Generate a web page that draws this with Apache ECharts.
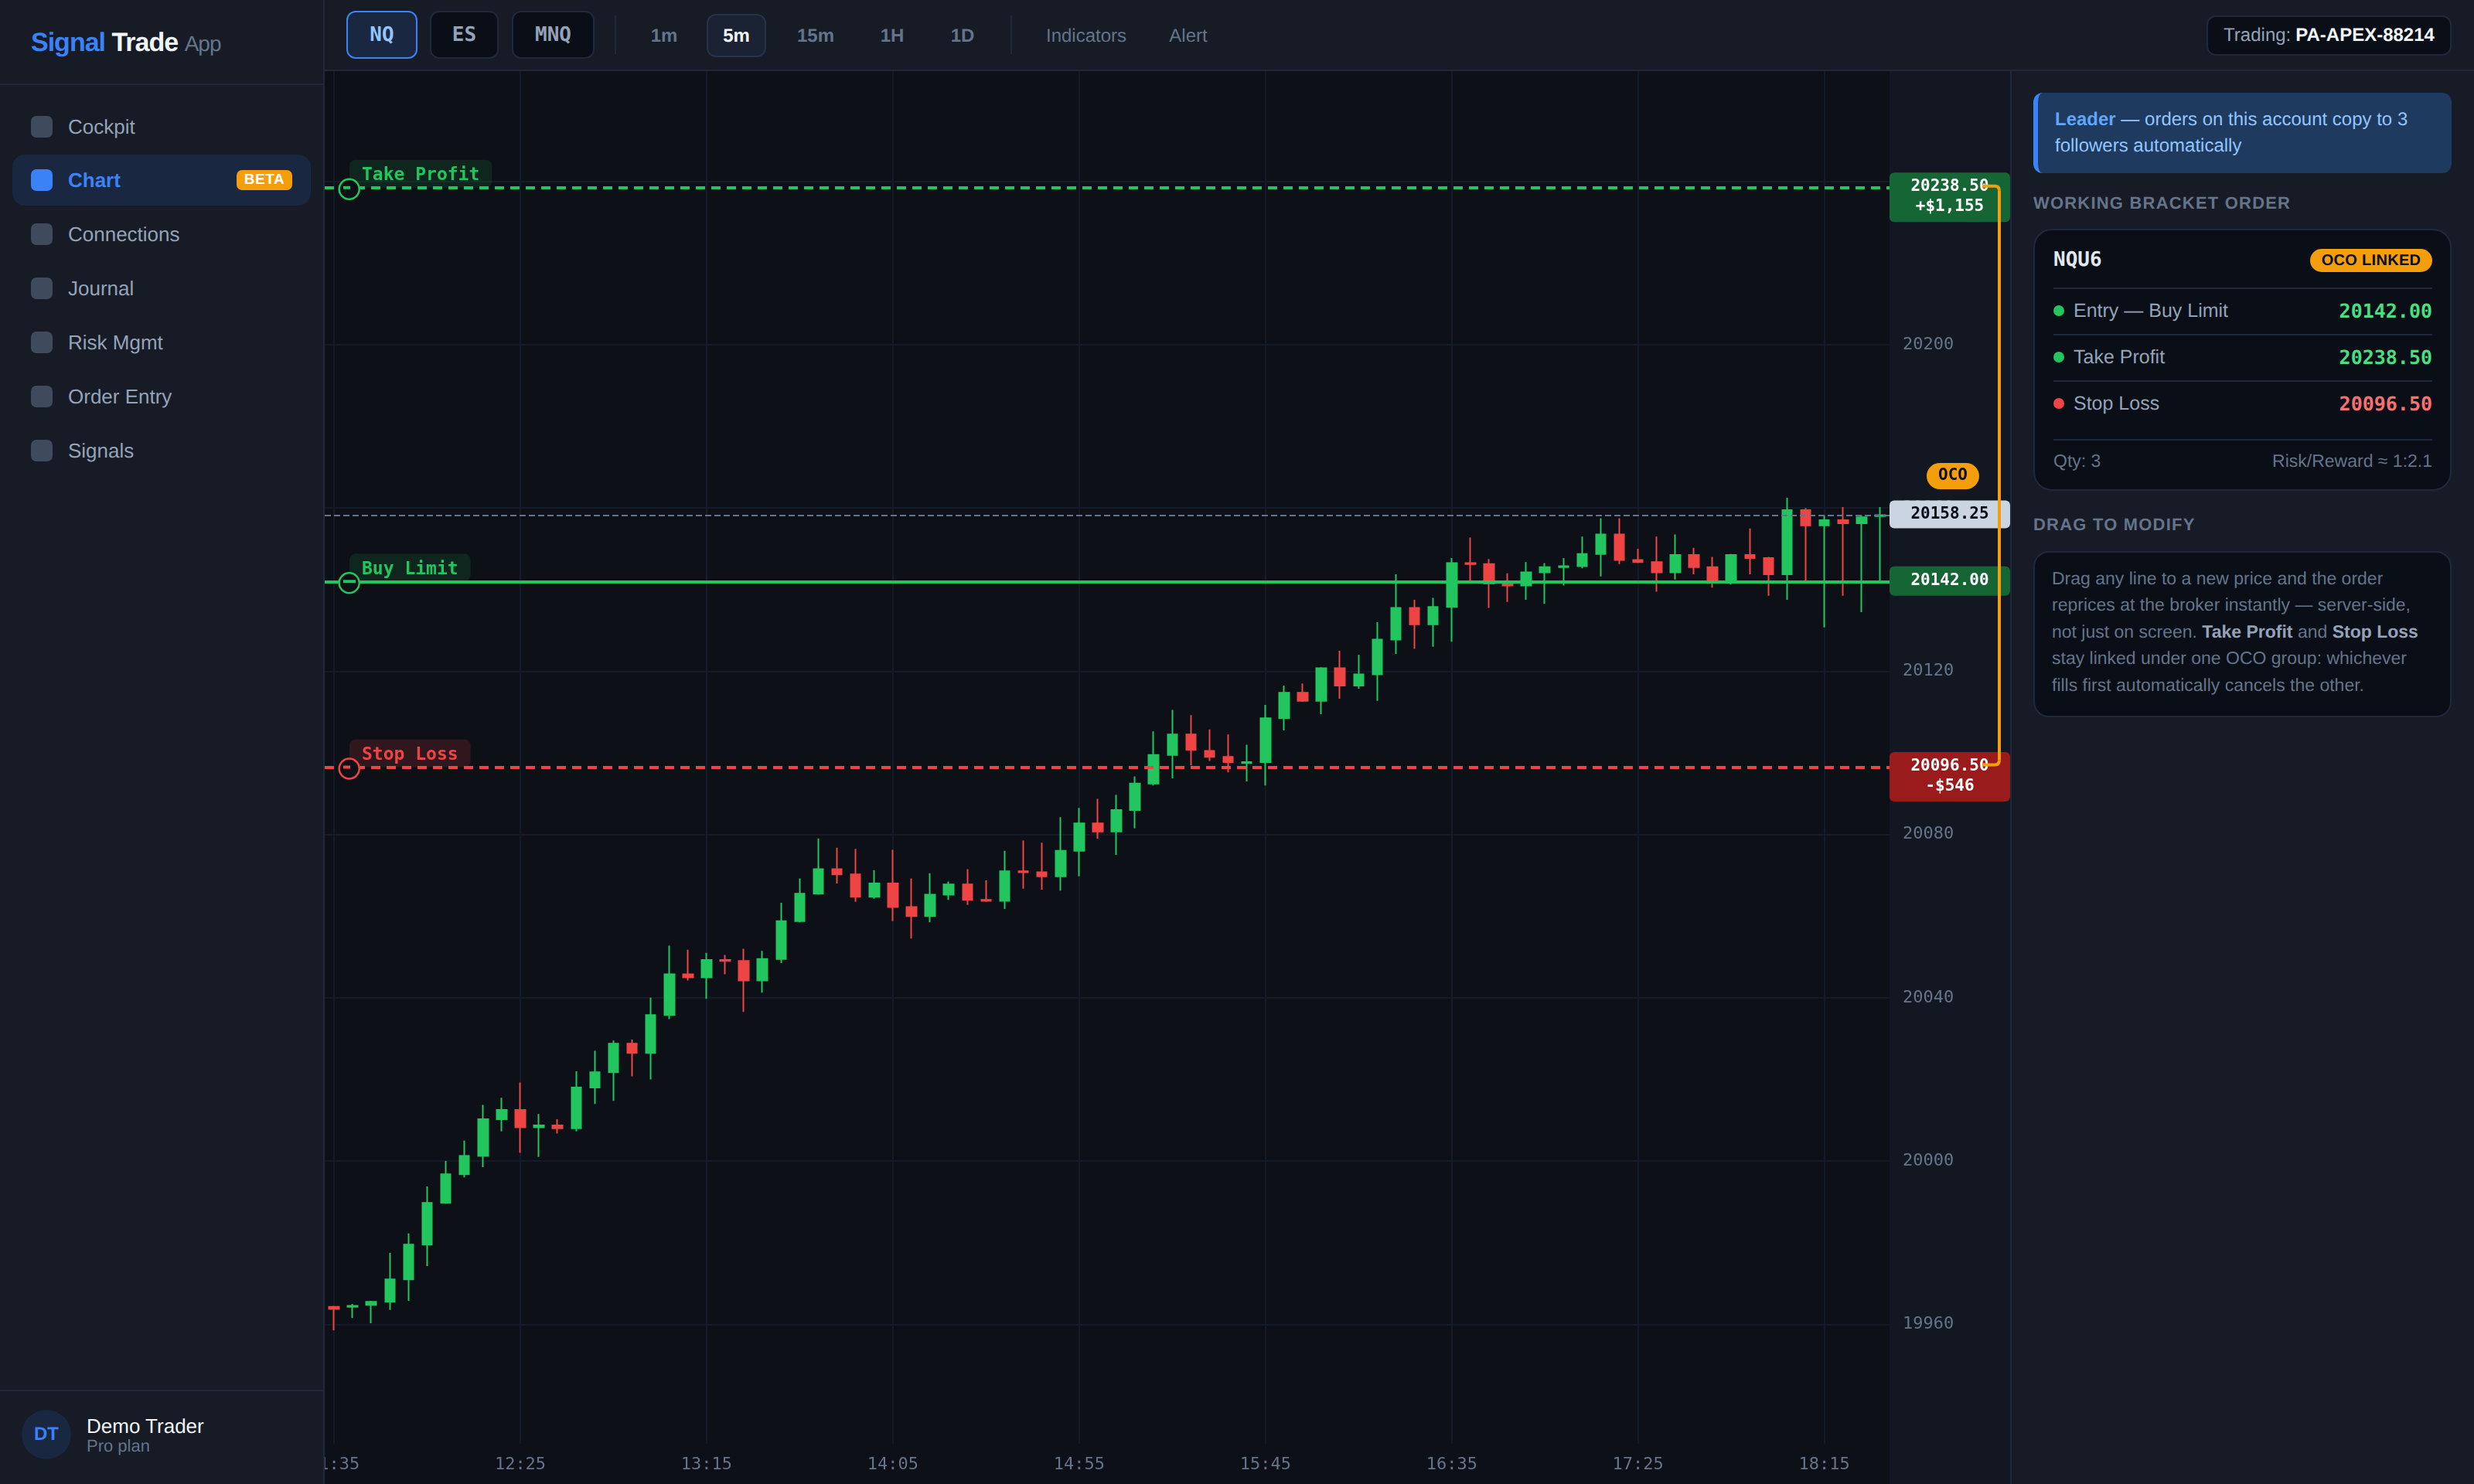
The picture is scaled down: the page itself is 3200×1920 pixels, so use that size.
<!DOCTYPE html>
<html>
<head>
<meta charset="utf-8">
<title>Signal Trade App</title>
<script src="https://cdn.jsdelivr.net/npm/echarts@6/dist/echarts.min.js"></script>
<style>
  html, body { margin: 0; width: 3200px; height: 1920px; overflow: hidden; background: #161b26; }
  body { position: relative; font-family: "Liberation Sans", sans-serif; color: #94a3b8; text-rendering: geometricPrecision; }
  .abs, .abs * { box-sizing: border-box; }
  .abs { position: absolute; white-space: nowrap; }
  .mono { font-family: "DejaVu Sans Mono", monospace; }
  .line-h { height: 2px; background: #1e293b; }
  .center { display: flex; align-items: center; justify-content: center; }

  #sidebar { left: 0; top: 0; width: 420px; height: 1920px; background: #161b26; border-right: 2px solid #1e293b; }
  .logo { left: 40px; top: 34px; font-size: 34px; line-height: 42px; font-weight: 700; letter-spacing: -1px; color: #f1f5f9; }
  .logo b { color: #3b82f6; }
  .logo span { font-size: 28px; font-weight: 400; color: #64748b; }
  .nav { left: 16px; width: 386px; height: 66px; border-radius: 16px; font-size: 26px; line-height: 66px; padding-left: 72px; color: #94a3b8; }
  .nav i { position: absolute; left: 24px; top: 19px; width: 28px; height: 28px; border-radius: 7px; background: #3f4a5c; }
  .nav.on { background: #1a2740; color: #3b82f6; font-weight: 700; }
  .nav.on i { background: #3b82f6; }
  .beta { position: absolute; left: 290px; top: 20px; width: 72px; height: 26px; border-radius: 7px; background: #f59e0b; color: #fff; font-size: 19px; font-weight: 700; letter-spacing: .5px; line-height: 26px; text-align: center; }

  #topbar { left: 420px; top: 0; width: 2780px; height: 92px; background: #161b26; border-bottom: 2px solid #1e293b; }
  .sym { top: 14px; height: 62px; border: 2px solid #1e293b; border-radius: 12px; background: #0a0e16; color: #94a3b8; font-size: 26px; font-weight: 700; }
  .sym.on { background: #1a2740; border-color: #3b82f6; color: #93c5fd; }
  .tf { top: 18px; height: 56px; padding-top: 2px; font-size: 24px; font-weight: 700; color: #64748b; }
  .tf.on { background: #1a2233; border: 2px solid #263449; border-radius: 12px; color: #f1f5f9; }
  .tool { top: 18px; height: 56px; padding-top: 2px; font-size: 24px; color: #64748b; }
  .sep { top: 20px; width: 2px; height: 50px; background: #1e293b; }
  .account { left: 2434px; top: 20px; width: 317px; height: 52px; border: 2px solid #1e293b; border-radius: 12px; background: #0a0e16; font-size: 24px; color: #94a3b8; }
  .account b { color: #f1f5f9; margin-left: 6px; }

  #chart { position: absolute; left: 420px; top: 92px; width: 2180px; height: 1828px; background: linear-gradient(90deg, #0d1017 2024px, #131722 2024px); }

  #panel { left: 2600px; top: 92px; width: 600px; height: 1828px; background: #161b26; border-left: 2px solid #1e293b; }
  .leader { left: 2630px; top: 120px; width: 541px; height: 104px; background: #1e3a5f; border-left: 6px solid #3b82f6; border-radius: 12px; padding: 18px 22px; font-size: 24px; line-height: 34px; color: #93c5fd; white-space: normal; }
  .leader b { color: #60a5fa; }
  .head { left: 2630px; font-size: 22px; line-height: 28px; font-weight: 700; letter-spacing: 1.2px; color: #64748b; }
  .card { left: 2630px; width: 541px; background: #0a0e16; border: 2px solid #1e293b; border-radius: 24px; }
  .row-label { left: 2682px; font-size: 25px; line-height: 32px; color: #94a3b8; }
  .row-dot { left: 2656px; width: 14px; height: 14px; border-radius: 50%; }
  .row-val { right: 54px; font-size: 25px; line-height: 32px; font-weight: 700; }
  .pill { left: 2988px; top: 322px; width: 158px; height: 30px; border-radius: 15px; background: #f59e0b; color: #0a0e16; font-size: 20px; font-weight: 700; letter-spacing: .3px; }
  .note { left: 2654px; top: 731px; width: 500px; font-size: 23px; line-height: 34.4px; color: #64748b; white-space: nowrap; }
  .note b { color: #94a3b8; }
</style>
</head>
<body>

<div id="chart"></div>

<div id="sidebar" class="abs">
  <div class="abs line-h" style="left:0;top:108px;width:418px"></div>
  <div class="abs line-h" style="left:0;top:1798px;width:418px"></div>
  <div class="abs center" style="left:28px;top:1824px;width:64px;height:64px;border-radius:50%;background:#1a2740;color:#3b82f6;font-size:24px;font-weight:700">DT</div>
  <div class="abs" style="left:112px;top:1830px;font-size:26px;line-height:30px;color:#f1f5f9">Demo Trader</div>
  <div class="abs" style="left:112px;top:1858px;font-size:22px;line-height:26px;color:#64748b">Pro plan</div>
</div>
<div class="abs logo"><b>Signal</b> Trade <span>App</span></div>
<div id="nav"></div>

<div id="topbar" class="abs">
  <div class="abs sym on center mono" style="left:28px;width:92px">NQ</div>
  <div class="abs sym center mono" style="left:136px;width:89px">ES</div>
  <div class="abs sym center mono" style="left:242px;width:107px">MNQ</div>
  <div class="abs sep" style="left:375px"></div>
  <div class="abs tf center" style="left:404px;width:70px">1m</div>
  <div class="abs tf on center" style="left:494px;width:77px">5m</div>
  <div class="abs tf center" style="left:595px;width:80px">15m</div>
  <div class="abs tf center" style="left:704px;width:60px">1H</div>
  <div class="abs tf center" style="left:795px;width:60px">1D</div>
  <div class="abs sep" style="left:887px"></div>
  <div class="abs tool center" style="left:925px;width:120px">Indicators</div>
  <div class="abs tool center" style="left:1082px;width:70px">Alert</div>
  <div class="abs account center">Trading: <b>PA-APEX-88214</b></div>
</div>

<div id="panel" class="abs"></div>
<div class="abs leader"><b>Leader</b> — orders on this account copy to 3 followers automatically</div>
<div class="abs head" style="top:249px">WORKING BRACKET ORDER</div>
<div class="abs card" style="top:296px;height:339px"></div>
<div class="abs mono" style="left:2656px;top:319px;font-size:26px;line-height:34px;font-weight:700;color:#e2e8f0">NQU6</div>
<div class="abs pill center">OCO LINKED</div>
<div class="abs line-h" style="left:2656px;top:372px;width:490px"></div>
<div class="abs row-dot" style="top:395px;background:#22c55e"></div>
<div class="abs row-label" style="top:386px">Entry — Buy Limit</div>
<div class="abs row-val mono" style="top:387px;color:#4ade80">20142.00</div>
<div class="abs line-h" style="left:2656px;top:432px;width:490px"></div>
<div class="abs row-dot" style="top:455px;background:#22c55e"></div>
<div class="abs row-label" style="top:446px">Take Profit</div>
<div class="abs row-val mono" style="top:447px;color:#4ade80">20238.50</div>
<div class="abs line-h" style="left:2656px;top:492px;width:490px"></div>
<div class="abs row-dot" style="top:515px;background:#ef4444"></div>
<div class="abs row-label" style="top:506px">Stop Loss</div>
<div class="abs row-val mono" style="top:507px;color:#f87171">20096.50</div>
<div class="abs line-h" style="left:2656px;top:568px;width:490px"></div>
<div class="abs" style="left:2656px;top:581px;font-size:23px;line-height:30px;color:#64748b">Qty: 3</div>
<div class="abs" style="right:54px;top:581px;font-size:23px;line-height:30px;color:#64748b">Risk/Reward ≈ 1:2.1</div>
<div class="abs head" style="top:665px">DRAG TO MODIFY</div>
<div class="abs card" style="top:713px;height:215px;border-radius:20px"></div>
<div class="abs note">Drag any line to a new price and the order<br>reprices at the broker instantly — server-side,<br>not just on screen. <b>Take Profit</b> and <b>Stop Loss</b><br>stay linked under one OCO group: whichever<br>fills first automatically cancels the other.</div>

<script>
const navItems = ['Cockpit', 'Chart', 'Connections', 'Journal', 'Risk Mgmt', 'Order Entry', 'Signals'];

const times = [
  '11:35','11:40','11:45','11:50','11:55','12:00','12:05','12:10','12:15','12:20',
  '12:25','12:30','12:35','12:40','12:45','12:50','12:55','13:00','13:05','13:10',
  '13:15','13:20','13:25','13:30','13:35','13:40','13:45','13:50','13:55','14:00',
  '14:05','14:10','14:15','14:20','14:25','14:30','14:35','14:40','14:45','14:50',
  '14:55','15:00','15:05','15:10','15:15','15:20','15:25','15:30','15:35','15:40',
  '15:45','15:50','15:55','16:00','16:05','16:10','16:15','16:20','16:25','16:30',
  '16:35','16:40','16:45','16:50','16:55','17:00','17:05','17:10','17:15','17:20',
  '17:25','17:30','17:35','17:40','17:45','17:50','17:55','18:00','18:05','18:10',
  '18:15','18:20','18:25','18:30'
];

const opens = [
  19964.25,19964.25,19964.75,19965.5,19971,19979.5,19989.75,19996.75,20001.25,20010.25,
  20012.5,20008.25,20008.75,20008,20018,20021.75,20028.75,20026.5,20035.75,20045.75,
  20045,20049.25,20049,20044.25,20049.5,20058.75,20065.5,20071.5,20070.25,20064.75,
  20068,20062.25,20060,20065.25,20067.75,20064,20063.75,20071,20070.75,20069.75,
  20076,20082.75,20080.75,20086,20092.5,20099.5,20104.5,20100.5,20099,20097.5,
  20097.75,20108.5,20114.75,20112.75,20120.75,20116.5,20119.25,20127.75,20135.5,20131.5,
  20135.75,20146.5,20146.25,20141.5,20141,20144.25,20145.5,20145.75,20148.75,20153.5,
  20147.25,20146.75,20144.25,20148.5,20145.5,20142.25,20148.5,20147.75,20143.75,20159.5,
  20155.75,20157,20156.25,20158
];
const closes = [
  19963.75,19964.5,19965.5,19971,19979.5,19989.75,19996.75,20001.25,20010.25,20012.5,
  20008.25,20008.75,20008,20018,20021.75,20028.75,20026.5,20035.75,20045.75,20045,
  20049.25,20049,20044.25,20049.5,20058.75,20065.5,20071.5,20070.25,20064.75,20068,
  20062.25,20060,20065.25,20067.75,20064,20063.75,20071,20070.75,20069.75,20076,
  20082.75,20080.75,20086,20092.5,20099.5,20104.5,20100.75,20099,20097.75,20097.75,
  20108.5,20114.75,20112.75,20120.75,20116.5,20119.25,20127.75,20135.5,20131.5,20135.75,
  20146.5,20146.25,20141.5,20141,20144.25,20145.5,20145.75,20148.75,20153.5,20147.25,
  20146.75,20144.25,20148.5,20145.5,20142.25,20148.5,20147.75,20143.75,20159.5,20155.75,
  20157,20156.25,20157.75,20158.25
];
const lows = [
  19958.5,19961.5,19960.25,19963.5,19965.75,19974.25,19989.5,19996,19998.5,20007.25,
  20002,20001,20006.75,20007.25,20014,20014.75,20020.75,20020,20034.75,20044.25,
  20039.75,20045.75,20036.5,20041.25,20048.5,20058.5,20065.25,20068,20063.5,20064.25,
  20058.75,20054.5,20058.5,20064,20062.75,20063.5,20061.75,20066.75,20066.5,20066.25,
  20069.75,20079,20075,20081.5,20092,20093.75,20097,20098,20095.25,20093,
  20092,20105.5,20112.5,20109.5,20113.25,20115.75,20112.75,20124.25,20125.5,20126,
  20127.25,20142,20135.5,20137,20137.5,20136.5,20141,20145.25,20143.25,20146.25,
  20146.5,20139.5,20142.5,20143.75,20140.5,20141.25,20143.75,20138.5,20137.5,20142,
  20130.75,20138.5,20134.5,20142
];
const highs = [
  19964.5,19965,19965.75,19977.5,19982.25,19993.75,20000,20005,20013.75,20015.5,
  20019.25,20011.5,20010.25,20022,20027,20029.5,20029.75,20040,20052.75,20051.75,
  20051,20050.5,20052,20051.5,20063.25,20069.25,20079,20076.75,20076.5,20071.25,
  20076.25,20069.25,20070.5,20068.5,20071.5,20068.75,20076,20078.5,20078,20084.25,
  20086.5,20088.75,20089.75,20094.25,20105.25,20110.5,20109.25,20105.75,20104.5,20102,
  20111.75,20116.5,20117,20121,20125,20124,20132,20143.75,20137.5,20138,
  20147.75,20152.75,20147.5,20144,20146.75,20146.5,20147.75,20153,20157.5,20157.5,
  20150,20153,20153.5,20150.25,20148,20148.75,20155,20148,20162.5,20160,
  20158.25,20160.25,20158.25,20160.25
];

const priceTicks = [19960, 20000, 20040, 20080, 20120, 20160, 20200, 20240];

const orderNames = ['Take Profit', 'Buy Limit', 'Stop Loss'];
const orderPrices = [20238.5, 20142, 20096.5];
const orderTagPrice = ['20238.50', '20142.00', '20096.50'];
const orderTagPnl = ['+$1,155', '', '-$546'];
const lastPrice = 20158.25;
const lastPriceText = '20158.25';

const UP = '#22c55e', DOWN = '#ef4444', AMBER = '#f59e0b', MONO = '"DejaVu Sans Mono", monospace';

document.getElementById('nav').innerHTML = navItems.map((name, i) => {
  const on = name === 'Chart';
  return '<div class="abs nav' + (on ? ' on' : '') + '" style="top:' + (131 + 70 * i - (i > 0 ? 1 : 0)) + 'px"><i></i>' + name +
    (on ? '<span class="beta">BETA</span>' : '') + '</div>';
}).join('');

const candles = times.map((t, i) => [opens[i], closes[i], lows[i], highs[i]]);

const myChart = echarts.init(document.getElementById('chart'), null, { renderer: 'canvas' });

const option = {
  animation: false,
  backgroundColor: 'transparent',
  grid: { left: 0, top: 0, width: 2024, height: 1776, outerBoundsMode: 'none' },
  xAxis: {
    type: 'category',
    data: times,
    axisLine: { show: false },
    axisTick: { show: false },
    axisLabel: { interval: 9, color: '#64748b', fontFamily: MONO, fontSize: 22, margin: 16, hideOverlap: false },
    splitLine: { show: true, interval: 9, alignWithLabel: true, lineStyle: { color: '#141b28', width: 2 } }
  },
  yAxis: {
    type: 'value',
    position: 'right',
    min: 19930.7,
    max: 20267.05,
    axisLine: { show: false },
    axisTick: { show: false, customValues: priceTicks },
    axisLabel: { customValues: priceTicks, formatter: v => String(v), color: '#64748b', fontFamily: MONO, fontSize: 22, margin: 17 },
    splitLine: { show: true, lineStyle: { color: '#141b28', width: 2 } }
  },
  series: [{
    type: 'candlestick',
    data: candles,
    barWidth: 13,
    itemStyle: { color: UP, color0: DOWN, borderColor: UP, borderColor0: DOWN, borderWidth: 2 },
    markLine: {
      silent: true,
      symbol: 'none',
      label: { show: false },
      z: 5,
      data: [
        { yAxis: lastPrice, lineStyle: { color: '#64748b', width: 2, type: [8, 4] } },
        { yAxis: orderPrices[0], lineStyle: { color: UP, width: 4, type: [12, 8] } },
        { yAxis: orderPrices[1], lineStyle: { color: UP, width: 4, type: 'solid' } },
        { yAxis: orderPrices[2], lineStyle: { color: DOWN, width: 4, type: [12, 8] } }
      ]
    }
  }]
};

option && myChart.setOption(option);

// order lines get their pills, handles and price tags from the axis scale
function buildOverlay() {
  const py = v => myChart.convertToPixel({ yAxisIndex: 0 }, v);
  const els = [];
  const tagX = 2024, tagW = 156, tagMid = 2102;

  const tagText = (text, y, fill) => els.push({
    type: 'text', z: 12,
    style: { text: text, x: tagMid, y: y, fill: fill, font: 'bold 21px ' + MONO, textAlign: 'center', textVerticalAlign: 'middle' }
  });

  orderNames.forEach((name, i) => {
    const y = py(orderPrices[i]);
    const color = i === 2 ? DOWN : UP;
    const pillFill = i === 2 ? 'rgba(239,68,68,0.15)' : 'rgba(34,197,94,0.12)';
    const tagFill = i === 2 ? '#991b1b' : '#166534';
    const pillW = name.length * 13.85 + 32;
    els.push({ type: 'rect', z: 4, shape: { x: 32, y: y - 36, width: pillW, height: 36, r: 8 }, style: { fill: pillFill } });
    els.push({ type: 'text', z: 6, style: { text: name, x: 48, y: y - 15.5, fill: color, font: 'bold 23px ' + MONO, textVerticalAlign: 'middle' } });
    els.push({ type: 'circle', z: 8, shape: { cx: 31.7, cy: y + 2, r: 13 }, style: { fill: '#0d1017', stroke: color, lineWidth: 2.5 } });
    els.push({ type: 'rect', z: 9, shape: { x: 24, y: y - 2, width: i === 1 ? 16 : 9, height: 4 }, style: { fill: color } });

    const h = orderTagPnl[i] ? 64 : 38;
    els.push({ type: 'rect', z: 11, shape: { x: tagX, y: y - 19.5, width: tagW, height: h, r: 6 }, style: { fill: tagFill } });
    tagText(orderTagPrice[i], y - 1, '#fff');
    if (orderTagPnl[i]) tagText(orderTagPnl[i], y + 25, '#fff');
  });

  const lastY = py(lastPrice);
  els.push({ type: 'rect', z: 11, shape: { x: tagX, y: lastY - 19, width: tagW, height: 36, r: 6 }, style: { fill: '#cbd5e1' } });
  tagText(lastPriceText, lastY - 1, '#0a0e16');

  // OCO bracket between take profit and stop
  const topY = py(orderPrices[0]) - 2, botY = py(orderPrices[2]) - 3;
  const bracketStyle = { fill: 'none', stroke: AMBER, lineWidth: 4 };
  els.push({ type: 'polyline', z: 13, shape: { points: [[2144, topY], [2160, topY]] }, style: bracketStyle });
  els.push({ type: 'bezierCurve', z: 13, shape: { x1: 2160, y1: topY, cpx1: 2166, cpy1: topY, x2: 2166, y2: topY + 6 }, style: bracketStyle });
  els.push({ type: 'polyline', z: 13, shape: { points: [[2166, topY + 6], [2166, botY - 6]] }, style: bracketStyle });
  els.push({ type: 'bezierCurve', z: 13, shape: { x1: 2166, y1: botY - 6, cpx1: 2166, cpy1: botY, x2: 2160, y2: botY }, style: bracketStyle });
  els.push({ type: 'polyline', z: 13, shape: { points: [[2160, botY], [2144, botY]] }, style: bracketStyle });
  els.push({ type: 'rect', z: 14, shape: { x: 2072, y: 507, width: 68, height: 34, r: 17 }, style: { fill: AMBER } });
  els.push({ type: 'text', z: 15, style: { text: 'OCO', x: 2106, y: 524, fill: '#0a0e16', font: 'bold 21px ' + MONO, textAlign: 'center', textVerticalAlign: 'middle' } });

  myChart.setOption({ graphic: { elements: els } });
}
buildOverlay();
</script>
</body>
</html>
